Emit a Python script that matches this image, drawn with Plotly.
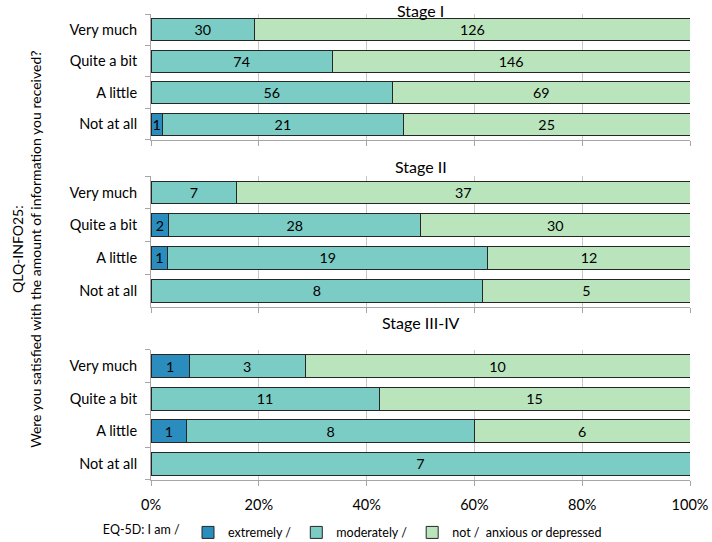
import plotly.graph_objects as go

categories = ["Not at all", "A little", "Quite a bit", "Very much"]
stages = ["Stage I", "Stage II", "Stage III-IV"]

# counts per stage, order matches categories
extremely = {
    "Stage I": [1, 0, 0, 0],
    "Stage II": [0, 1, 2, 0],
    "Stage III-IV": [0, 1, 0, 1],
}
moderately = {
    "Stage I": [21, 56, 74, 30],
    "Stage II": [8, 19, 28, 7],
    "Stage III-IV": [7, 8, 11, 3],
}
not_anx = {
    "Stage I": [25, 69, 146, 126],
    "Stage II": [5, 12, 30, 37],
    "Stage III-IV": [0, 6, 15, 10],
}
x_ticks = [0, 20, 40, 60, 80, 100]

series = [
    ("extremely /", extremely, "#2b8cbe"),
    ("moderately /", moderately, "#7bccc4"),
    ("not /  anxious or depressed", not_anx, "#bae4bc"),
]

FONT = "Lato, Carlito, Calibri, sans-serif"
fig = go.Figure()

domains = [(0.730, 1.0), (0.371, 0.652), (0.0, 0.279)]
for i, st in enumerate(stages):
    xa = "x" if i == 0 else f"x{i+1}"
    ya = "y" if i == 0 else f"y{i+1}"
    for name, data, col in series:
        vals = data[st]
        fig.add_trace(go.Bar(
            y=categories, x=vals, orientation="h",
            name=name, legendgroup=name, showlegend=(i == 0),
            marker=dict(color=col, line=dict(color="#262626", width=1)),
            text=[str(v) if v else "" for v in vals],
            textposition="inside", insidetextanchor="middle", textangle=0,
            textfont=dict(color="black", size=14.5, family=FONT),
            xaxis=xa, yaxis=ya, hoverinfo="skip",
        ))

layout = dict(
    width=712, height=542,
    margin=dict(l=151, r=22, t=14, b=62, autoexpand=False),
    barmode="stack", barnorm="percent", bargap=0.3,
    plot_bgcolor="white", paper_bgcolor="white",
    font=dict(family=FONT, size=14, color="black"),
    uniformtext=dict(minsize=14, mode="show"),
    legend=dict(
        orientation="h", x=0.497, xanchor="center", xref="container",
        y=0.017, yanchor="middle", yref="container",
        title=dict(text="EQ-5D: I am /", side="left", font=dict(size=12.5)),
        font=dict(size=12.5), itemwidth=30, traceorder="normal",
        bgcolor="rgba(0,0,0,0)",
    ),
)
for i in range(3):
    xk = "xaxis" if i == 0 else f"xaxis{i+1}"
    yk = "yaxis" if i == 0 else f"yaxis{i+1}"
    ya = "y" if i == 0 else f"y{i+1}"
    xa = "x" if i == 0 else f"x{i+1}"
    layout[xk] = dict(
        domain=[0, 1], anchor=ya, range=[0, 100],
        tickvals=x_ticks, ticktext=[f"{t}%" for t in x_ticks],
        showticklabels=(i == 2), showgrid=True, gridcolor="#c8c8c8", gridwidth=1,
        showline=True, linecolor="#a6a6a6", linewidth=1,
        ticks="outside", ticklen=5, tickcolor="#a6a6a6",
        zeroline=False, fixedrange=True, tickfont=dict(size=14.5),
        ticklabelstandoff=7, automargin=False,
    )
    layout[yk] = dict(
        domain=list(domains[i]), anchor=xa, type="category",
        categoryorder="array", categoryarray=categories,
        showline=True, linecolor="#a6a6a6", linewidth=1,
        ticks="outside", ticklen=5, tickcolor="#a6a6a6", tickson="boundaries",
        showgrid=False, tickfont=dict(size=14.5), ticklabelstandoff=10,
        automargin=False, fixedrange=True,
    )
fig.update_layout(**layout)

title_y = [1.008, 0.672, 0.339]
for st, ty in zip(stages, title_y):
    fig.add_annotation(text=st, x=0.5, y=ty, xref="paper", yref="paper",
                       showarrow=False, xanchor="center", yanchor="middle",
                       font=dict(size=16, family=FONT))

fig.add_annotation(
    text="QLQ-INFO25:<br>Were you satisfied with the amount of information you received?",
    x=-0.230, y=0.494, xref="paper", yref="paper", textangle=-90,
    showarrow=False, xanchor="center", yanchor="middle",
    font=dict(size=14, family=FONT))

fig.write_html("out.html", config={"displayModeBar": False},
               post_script="document.body.style.margin='0px';")
